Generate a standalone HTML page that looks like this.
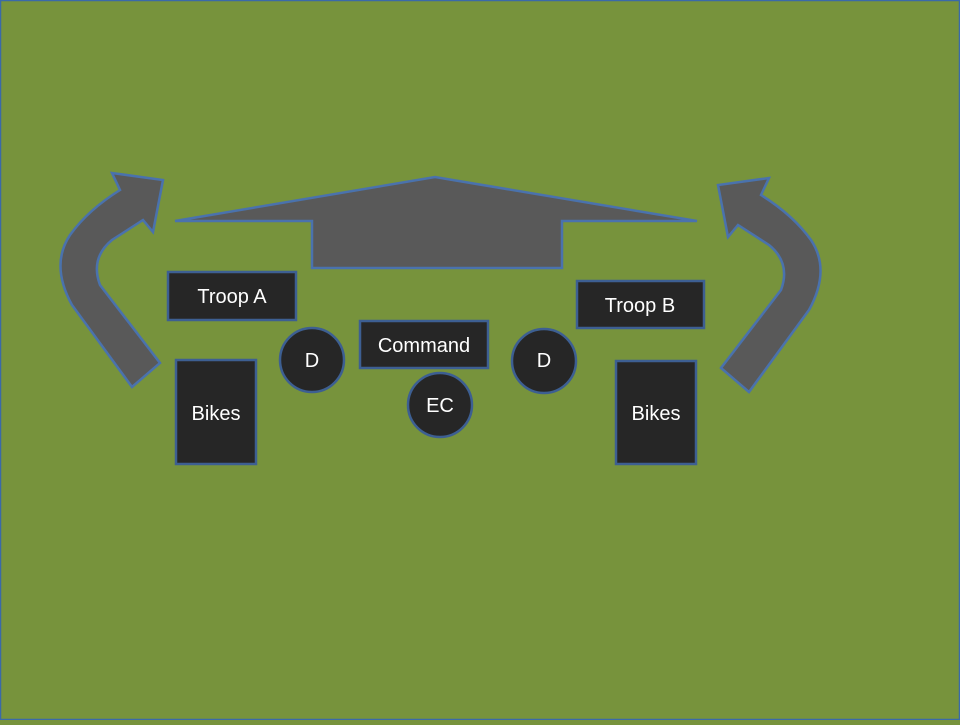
<!DOCTYPE html>
<html><head><style>
html,body{margin:0;padding:0;}
body{width:960px;height:720px;overflow:hidden;background:#77933c;}
text{font-family:"Liberation Sans",sans-serif;fill:#fff;font-size:20px;}
</style></head><body>
<svg width="960" height="720" xmlns="http://www.w3.org/2000/svg">
<rect x="0.5" y="0.5" width="959" height="719" fill="#77933c" stroke="#3a6aa8" stroke-width="1.5"/>
<g fill="#595959" stroke="#4a72ad" stroke-width="2.5" stroke-linejoin="miter">
<path d="M132,387 L72,305 Q50,265 70,235 Q88,210 120,190 L112,173 L163,180 L153,232 L143,220 L112,240 Q90,258 100,285 L160,363 Z"/>
<path d="M132,387 L72,305 Q50,265 70,235 Q88,210 120,190 L112,173 L163,180 L153,232 L143,220 L112,240 Q90,258 100,285 L160,363 Z" transform="translate(881,5) scale(-1,1)"/>
<polygon points="175,221 435,177 697,221 562,221 562,268 312,268 312,221"/>
</g>
<g fill="#262626" stroke="#3d5f92" stroke-width="2.5">
<rect x="168" y="272" width="128" height="48"/>
<rect x="577" y="281" width="127" height="47"/>
<rect x="360" y="321" width="128" height="47"/>
<rect x="176" y="360" width="80" height="104"/>
<rect x="616" y="361" width="80" height="103"/>
<circle cx="312" cy="360" r="32"/>
<circle cx="544" cy="361" r="32"/>
<circle cx="440" cy="405" r="32"/>
</g>
<g text-anchor="middle">
<text x="232" y="303">Troop  A</text>
<text x="640" y="312">Troop B</text>
<text x="424" y="352">Command</text>
<text x="216" y="420">Bikes</text>
<text x="656" y="420">Bikes</text>
<text x="312" y="367">D</text>
<text x="544" y="367">D</text>
<text x="440" y="412">EC</text>
</g>
</svg>
</body></html>
